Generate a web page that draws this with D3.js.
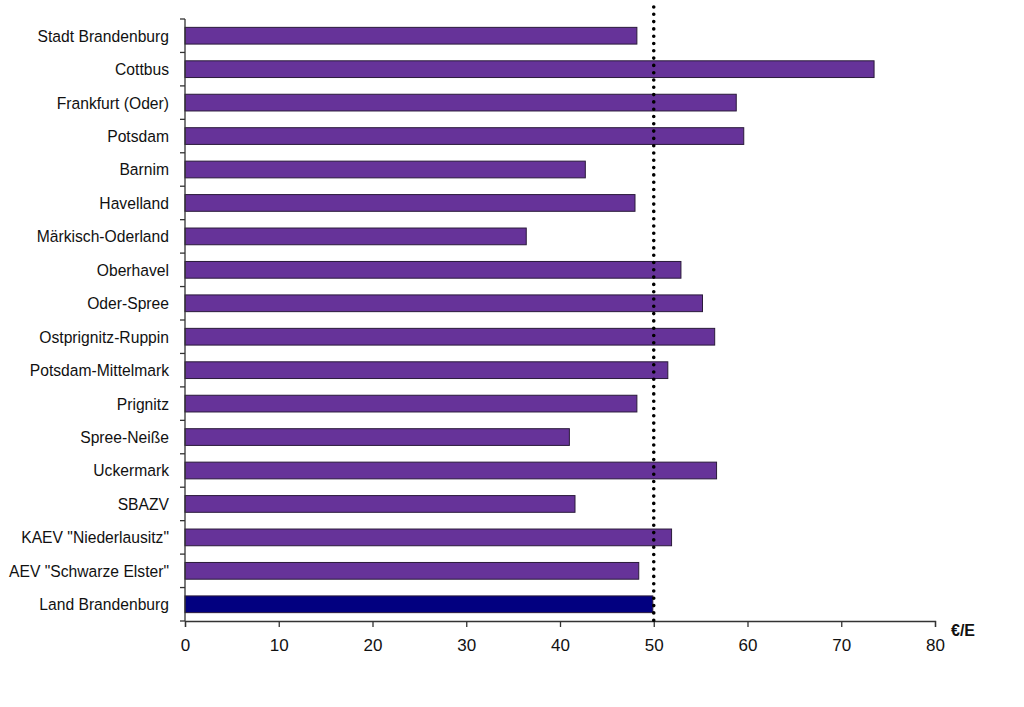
<!DOCTYPE html>
<html><head><meta charset="utf-8">
<script src="https://cdn.jsdelivr.net/npm/d3@7"></script>
<style>
body{margin:0;background:#fff;}
svg{display:block;font-family:"Liberation Sans",Arial,sans-serif;}
</style></head>
<body><svg id="chart" width="1024" height="707"></svg>
<script>
const categories = ["Stadt Brandenburg","Cottbus","Frankfurt (Oder)","Potsdam","Barnim","Havelland","Märkisch-Oderland","Oberhavel","Oder-Spree","Ostprignitz-Ruppin","Potsdam-Mittelmark","Prignitz","Spree-Neiße","Uckermark","SBAZV","KAEV \"Niederlausitz\"","AEV \"Schwarze Elster\"","Land Brandenburg"];
const values = [48.2,73.5,58.8,59.6,42.7,48.0,36.4,52.9,55.2,56.5,51.5,48.2,41.0,56.7,41.6,51.9,48.4,49.9];
const referenceValue = 50;
const xTicks = [0,10,20,30,40,50,60,70,80];
const unitLabel = "€/E";

(function(){
const svg = d3.select("#chart");
const mLeft = 185, mRight = 935, mTop = 19, mBottom = 621;
const x = d3.scaleLinear().domain([0,80]).range([mLeft,mRight]);
const y = d3.scaleBand().domain(categories).range([mTop,mBottom]).paddingInner(0.5).paddingOuter(0.25);

// bars
svg.append("g").selectAll("rect").data(categories).join("rect")
  .attr("x", x(0))
  .attr("y", d => y(d))
  .attr("width", (d,i) => x(values[i]) - x(0))
  .attr("height", y.bandwidth())
  .attr("fill", d => d === "Land Brandenburg" ? "#020080" : "#663399")
  .attr("stroke", "#2a1a3a")
  .attr("stroke-width", 1);

// y axis line and ticks at band boundaries
const yAxisG = svg.append("g");
yAxisG.append("line").attr("x1",mLeft).attr("x2",mLeft).attr("y1",mTop).attr("y2",mBottom)
  .attr("stroke","#333").attr("stroke-width",1.3);
const step = (mBottom-mTop)/categories.length;
yAxisG.selectAll("line.tk").data(d3.range(categories.length+1)).join("line").attr("class","tk")
  .attr("x1",mLeft-5).attr("x2",mLeft).attr("y1",i=>mTop+i*step).attr("y2",i=>mTop+i*step)
  .attr("stroke","#333").attr("stroke-width",1.3);
yAxisG.append("g").attr("transform",`translate(${mLeft-16},0) scale(0.95,1)`)
  .selectAll("text").data(categories).join("text")
  .attr("x", 0)
  .attr("y", d => y(d)+y.bandwidth()/2)
  .attr("dy","0.36em")
  .attr("text-anchor","end")
  .attr("font-size",16.5)
  .attr("fill","#111")
  .text(d=>d);

// x axis
const xAxis = d3.axisBottom(x).tickValues(xTicks).tickSize(6).tickPadding(12).tickFormat(d3.format("d"));
const xg = svg.append("g").attr("transform",`translate(0,${mBottom})`).call(xAxis);
xg.select(".domain").attr("stroke","#333").attr("stroke-width",1.3);
xg.selectAll(".tick line").attr("stroke","#333").attr("stroke-width",1.3);
xg.selectAll(".tick text").attr("font-size",17).attr("fill","#111").attr("font-family","Liberation Sans, Arial, sans-serif");

svg.append("text").attr("x",951).attr("y",636).attr("font-size",16).attr("font-weight","bold")
  .attr("fill","#111").text(unitLabel);

// reference dotted line
svg.append("line")
  .attr("x1",x(referenceValue)).attr("x2",x(referenceValue))
  .attr("y1",7).attr("y2",626)
  .attr("stroke","#000").attr("stroke-width",3.6)
  .attr("stroke-linecap","round")
  .attr("stroke-dasharray","0 7.3");
})();
</script></body></html>
